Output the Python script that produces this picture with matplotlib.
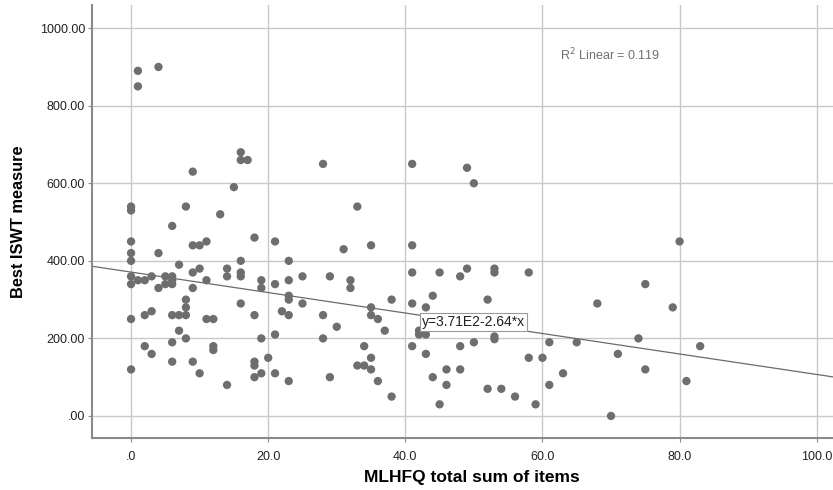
import numpy as np
import matplotlib.pyplot as plt
from matplotlib.ticker import FuncFormatter

# Data (MLHFQ score, best ISWT)
mlhfq = [0, 0, 0, 0, 0, 0, 0, 0, 0,
         1, 1, 1,
         2, 2, 2,
         3, 3, 3,
         4, 4, 4,
         5, 5,
         6, 6, 6, 6, 6, 6, 6,
         7, 7, 7,
         8, 8, 8, 8, 8,
         9, 9, 9, 9, 9,
         10, 10, 10,
         11, 11, 11,
         12, 12, 12,
         13,
         14, 14, 14,
         15,
         16, 16, 16, 16, 16, 16,
         17,
         18, 18, 18, 18, 18,
         19, 19, 19, 19,
         20,
         21, 21, 21, 21,
         22,
         23, 23, 23, 23, 23, 23,
         25, 25,
         28, 28, 28,
         29, 29,
         30, 31,
         32, 32,
         33, 33,
         34, 34,
         35, 35, 35, 35, 35,
         36, 36,
         37,
         38, 38,
         41, 41, 41, 41, 41,
         42, 42, 43,
         43, 43,
         44, 44,
         45, 45,
         46, 46,
         48, 48, 48,
         49, 49,
         50, 50,
         52, 52,
         53, 53, 53, 53,
         54, 56,
         58, 58,
         59, 60,
         61, 61,
         63, 65, 68, 70, 71, 74,
         75, 75,
         79, 80, 81, 83]
iswt = [540, 530, 450, 420, 400, 360, 340, 250, 120,
        890, 850, 350,
        350, 260, 180,
        360, 270, 160,
        900, 420, 330,
        360, 340,
        490, 360, 350, 340, 260, 190, 140,
        390, 260, 220,
        540, 300, 280, 260, 200,
        630, 440, 370, 330, 140,
        440, 380, 110,
        450, 350, 250,
        250, 180, 170,
        520,
        380, 360, 80,
        590,
        680, 660, 400, 370, 360, 290,
        660,
        460, 260, 140, 130, 100,
        350, 330, 200, 110,
        150,
        450, 340, 210, 110,
        270,
        400, 350, 310, 300, 260, 90,
        360, 290,
        650, 260, 200,
        360, 100,
        230, 430,
        350, 330,
        540, 130,
        130, 180,
        440, 280, 260, 150, 120,
        250, 90,
        220,
        300, 50,
        650, 440, 370, 290, 180,
        220, 210, 210,
        280, 160,
        310, 100,
        370, 30,
        120, 80,
        360, 180, 120,
        640, 380,
        600, 190,
        300, 70,
        380, 370, 205, 198,
        70, 50,
        370, 150,
        30, 150,
        190, 80,
        110, 190, 290, 0, 160, 200,
        340, 120,
        280, 450, 90, 180]

# fit line as printed on the chart
intercept = 371.0
slope = -2.64
fit_label = 'y=3.71E2-2.64*x'
r2_label = 'R$^2$ Linear = 0.119'

x_ticks = [0, 20, 40, 60, 80, 100]
y_ticks = [0, 200, 400, 600, 800, 1000]

plt.rcParams['font.family'] = ['Liberation Sans', 'DejaVu Sans']

fig = plt.figure(figsize=(8.33, 4.90), dpi=100)
ax = fig.add_axes([0.1104, 0.106, 0.889, 0.884])

xlim = (-5.7, 102.3)
ylim = (-57, 1060)
ax.set_xlim(xlim)
ax.set_ylim(ylim)

ax.set_xticks(x_ticks)
ax.set_yticks(y_ticks)
ax.grid(True, color='#c8c8c8', linewidth=1.0)
ax.set_axisbelow(True)

ax.scatter(mlhfq, iswt, s=36, color='#6e6e6e', edgecolors='none', zorder=3)

xs = np.array(xlim)
ax.plot(xs, intercept + slope * xs, color='#6a6a6a', linewidth=0.9, zorder=2)

ax.text(42.4, 243, fit_label, fontsize=10, va='center', ha='left', color='#222222',
        bbox=dict(boxstyle='square,pad=0.15', facecolor='white', edgecolor='#9a9a9a',
                  linewidth=0.8), zorder=4)
ax.text(62.6, 932, r2_label, fontsize=9, color='#707070', va='center', ha='left')


def fmt_dec(v, pos, nd):
    s = f'{v:.{nd}f}'
    if s.startswith('0'):
        s = s[1:]
    return s


ax.xaxis.set_major_formatter(FuncFormatter(lambda v, p: fmt_dec(v, p, 1)))
ax.yaxis.set_major_formatter(FuncFormatter(lambda v, p: fmt_dec(v, p, 2)))
ax.tick_params(axis='both', labelsize=9, colors='#8a8a8a', labelcolor='#222222',
               length=3, width=0.8)
ax.tick_params(axis='x', pad=6)
ax.tick_params(axis='y', pad=2)

for side in ['top', 'right']:
    ax.spines[side].set_visible(False)
for side in ['left', 'bottom']:
    ax.spines[side].set_color('#8a8a8a')
    ax.spines[side].set_linewidth(1.5)

ax.set_xlabel('MLHFQ total sum of items', fontsize=12.5, fontweight='bold')
ax.xaxis.set_label_coords(0.5135, -0.074)
ax.set_ylabel('Best ISWT measure', fontsize=11.8, fontweight='bold', labelpad=10)

fig.savefig('out.png', dpi=100)
